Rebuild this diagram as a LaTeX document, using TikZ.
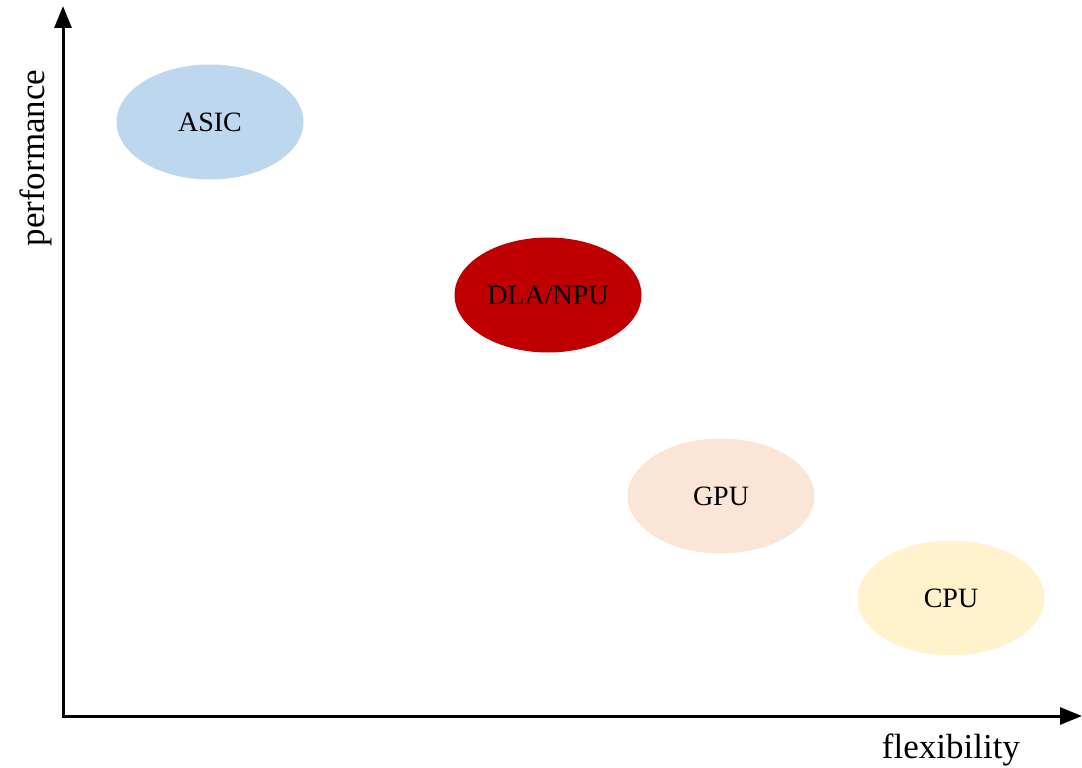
\documentclass[tikz,border=0pt]{standalone}
\usepackage{fontspec}
\setmainfont{Liberation Serif}
\usetikzlibrary{shapes.geometric,arrows.meta}
\definecolor{asicblue}{HTML}{BDD7EE}
\definecolor{dlared}{HTML}{C00000}
\definecolor{gpupeach}{HTML}{FBE5D6}
\definecolor{cpuyellow}{HTML}{FFF2CC}
\tikzset{
  chip/.style={ellipse, draw=none, minimum width=187pt, minimum height=115pt,
    inner sep=0pt, font=\fontsize{28}{32}\selectfont, text=black},
  axisline/.style={line width=3pt, -{Triangle[length=22pt,width=17pt]}},
  axislabel/.style={font=\fontsize{35}{40}\selectfont, inner sep=0pt}
}
\begin{document}
\begin{tikzpicture}[x=1pt,y=-1pt]
  \useasboundingbox (0,0) rectangle (1082,768);
  % axes
  \coordinate (origin) at (63,716);
  \coordinate (ytip) at (63,6);
  \coordinate (xtip) at (1082,716);
  \draw[axisline] ([yshift=-1.5pt]origin) -- (ytip);
  \draw[axisline] ([xshift=-1.5pt]origin) -- (xtip);
  % axis labels
  \node[axislabel, rotate=90] (perf) at (36,158) {performance};
  \node[axislabel, anchor=base] (flex) at (951,758) {flexibility};
  % processor classes
  \node[chip, fill=asicblue] (asic) at (210,122) {ASIC};
  \node[chip, fill=dlared] (dla) at (548,295) {DLA/NPU};
  \node[chip, fill=gpupeach] (gpu) at (721,496) {GPU};
  \node[chip, fill=cpuyellow] (cpu) at (951,598) {CPU};
\end{tikzpicture}
\end{document}
